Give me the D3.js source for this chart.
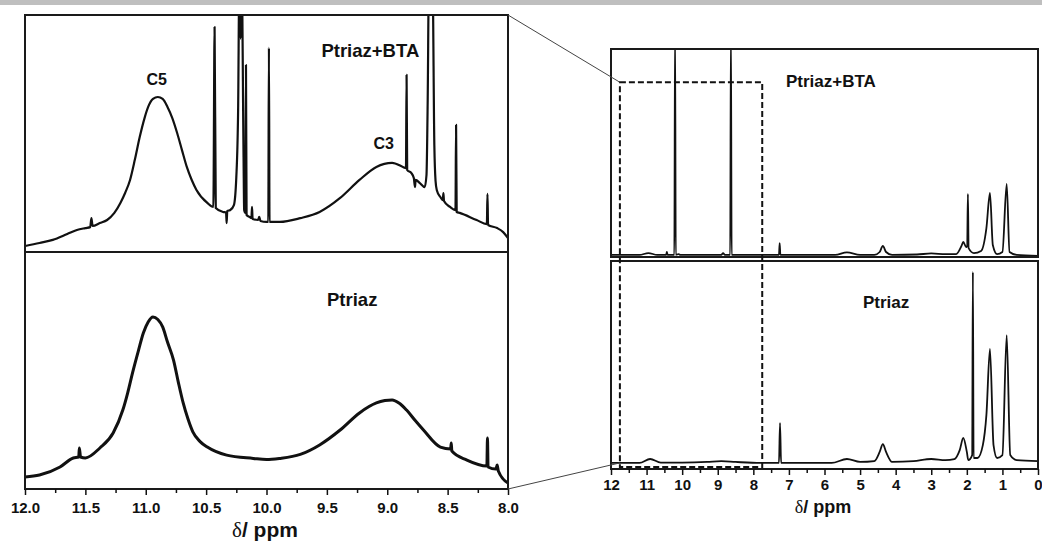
<!DOCTYPE html>
<html>
<head>
<meta charset="utf-8">
<script src="https://cdn.jsdelivr.net/npm/d3@7/dist/d3.min.js"></script>
<style>
  html, body { margin: 0; padding: 0; background: #fff; }
  svg { display: block; font-family: "Liberation Sans", Arial, sans-serif; }
  .tick text { font-weight: bold; fill: #111; }
  .tick line { stroke: #111; stroke-width: 1.5; }
</style>
</head>
<body>
<svg id="chart" width="1042" height="544"></svg>
<script>
// --- data: [ppm, relative intensity] ---
var zoomBTA = [
  [12.00, 2.5], [11.88, 3.8], [11.77, 5.1], [11.65, 7.6], [11.57, 9.3], [11.50, 10.1],
  [11.46, 10.5], [11.45, 14.3], [11.44, 11.0], [11.38, 12.2], [11.32, 13.5], [11.26, 16.5],
  [11.21, 20.7], [11.17, 25.0], [11.13, 30.4], [11.09, 39.0], [11.05, 48.5], [11.01, 56.5],
  [10.98, 61.2], [10.94, 64.6], [10.90, 65.4], [10.86, 64.6], [10.82, 61.2], [10.78, 56.5],
  [10.74, 50.2], [10.70, 43.0], [10.66, 35.9], [10.62, 30.5], [10.58, 26.2], [10.49, 20.7],
  [10.44, 19.0], [10.43, 94.9], [10.42, 18.6], [10.36, 16.9], [10.335, 16.7], [10.33, 12.2],
  [10.325, 17.3], [10.30, 17.7], [10.27, 19.8], [10.25, 31.6], [10.235, 60], [10.225, 115],
  [10.215, 90], [10.205, 115], [10.19, 40], [10.185, 17.7], [10.175, 16.5], [10.17, 78.9],
  [10.165, 15.6], [10.14, 14.8], [10.125, 14.3], [10.12, 19.0], [10.115, 13.9], [10.07, 13.5],
  [10.06, 14.8], [10.05, 13.1], [10.00, 12.7], [9.985, 12.7], [9.98, 86.1], [9.975, 12.7],
  [9.89, 12.7], [9.72, 14.3], [9.56, 16.9], [9.39, 22.8], [9.23, 30.4], [9.09, 35.9],
  [8.96, 37.6], [8.87, 35.9], [8.845, 35.4], [8.84, 74.7], [8.835, 34.6], [8.80, 33.3],
  [8.78, 31.2], [8.77, 27.4], [8.765, 30.4], [8.73, 29.1], [8.69, 27.4], [8.675, 32.5],
  [8.665, 64], [8.655, 115], [8.645, 100], [8.625, 115], [8.61, 45], [8.60, 30],
  [8.59, 26.2], [8.56, 23.2], [8.54, 21.9], [8.535, 24.9], [8.53, 21.5], [8.48, 19.0],
  [8.435, 17.7], [8.43, 53.6], [8.425, 16.9], [8.40, 16.5], [8.26, 13.5], [8.175, 11.8],
  [8.17, 24.5], [8.165, 11.4], [8.09, 10.1], [8.04, 8.4], [8.00, 5.9]
];
var zoomPtriaz = [
  [12.00, 5.1], [11.88, 5.9], [11.71, 9.3], [11.60, 13.1], [11.555, 13.5], [11.55, 17.3],
  [11.54, 13.5], [11.50, 13.1], [11.38, 17.3], [11.27, 23.6], [11.19, 33.3], [11.15, 40.5],
  [11.11, 48.9], [11.06, 58.5], [11.02, 65.8], [10.98, 70.5], [10.94, 72.6], [10.90, 71.5],
  [10.86, 68.4], [10.82, 62.0], [10.77, 54.4], [10.73, 45.0], [10.69, 36.3], [10.65, 29.5],
  [10.61, 24.1], [10.55, 20.0], [10.49, 17.7], [10.33, 14.3], [10.11, 12.9], [10.00, 12.4],
  [9.89, 12.9], [9.72, 14.6], [9.56, 18.6], [9.39, 24.9], [9.23, 32.1], [9.09, 36.3],
  [9.02, 37.3], [8.96, 37.6], [8.90, 36.2], [8.84, 33.3], [8.77, 29.0], [8.70, 24.9],
  [8.56, 17.7], [8.475, 16.9], [8.47, 19.4], [8.465, 16.0], [8.34, 12.2], [8.175, 9.7],
  [8.17, 21.5], [8.165, 9.3], [8.10, 8.4], [8.09, 10.1], [8.08, 7.6], [8.00, 2.5]
];
var fullBTA = [
  [12.0, 1.0], [11.2, 1.0], [10.95, 1.9], [10.7, 1.0], [10.45, 1.0], [10.43, 2.4],
  [10.41, 1.0], [10.22, 1.0], [10.20, 110], [10.18, 1.0], [10.10, 1.4], [10.05, 1.0],
  [8.90, 1.0], [8.85, 1.9], [8.80, 1.0], [8.65, 1.0], [8.63, 110], [8.61, 1.0],
  [7.28, 1.0], [7.26, 6.7], [7.24, 1.0], [5.70, 1.0], [5.37, 2.2], [5.00, 1.0],
  [4.60, 1.0], [4.45, 2.4], [4.36, 5.3], [4.27, 2.4], [4.10, 1.0], [3.40, 1.2],
  [3.00, 1.7], [2.60, 1.4], [2.30, 1.4], [2.15, 5.3], [2.10, 7.2], [2.02, 4.8],
  [1.99, 5.3], [1.97, 30.3], [1.95, 4.3], [1.80, 1.9], [1.60, 2.9], [1.45, 13.9],
  [1.35, 30.8], [1.27, 5.8], [1.15, 1.4], [1.00, 2.4], [0.88, 35.1], [0.80, 2.4],
  [0.60, 1.0], [0.00, 0.5]
];
var fullPtriaz = [
  [12.0, 2.9], [11.2, 2.9], [10.9, 4.8], [10.6, 3.1], [10.0, 3.1], [9.3, 3.4],
  [8.9, 3.8], [8.5, 3.4], [7.8, 2.9], [7.28, 2.9], [7.25, 22.1], [7.22, 2.9],
  [5.8, 2.9], [5.37, 4.8], [5.0, 3.4], [4.6, 3.8], [4.45, 8.2], [4.36, 12.0],
  [4.27, 8.2], [4.10, 3.4], [3.50, 3.8], [3.00, 4.8], [2.60, 4.3], [2.35, 4.8],
  [2.20, 9.1], [2.10, 14.9], [2.00, 8.2], [1.96, 4.3], [1.85, 6.7], [1.83, 94.7],
  [1.81, 5.3], [1.70, 5.3], [1.55, 11.5], [1.45, 26.0], [1.35, 57.7], [1.25, 11.5],
  [1.15, 5.3], [1.00, 6.7], [0.88, 64.4], [0.78, 6.7], [0.60, 4.3], [0.00, 3.8]
];
var zoomTicks = [12.0, 11.5, 11.0, 10.5, 10.0, 9.5, 9.0, 8.5, 8.0];
var zoomMinor = [11.75, 11.25, 10.75, 10.25, 9.75, 9.25, 8.75, 8.25];
var fullTicks = [12, 11, 10, 9, 8, 7, 6, 5, 4, 3, 2, 1, 0];
var fullMinor = [11.5, 10.5, 9.5, 8.5, 7.5, 6.5, 5.5, 4.5, 3.5, 2.5, 1.5, 0.5];
var zoomWindow = [11.75, 7.75]; // ppm range of the dashed box

(function () {
  'use strict';

  var svg = d3.select('#chart');

  // scales: left zoom panel and right full spectrum
  var xZoom = d3.scaleLinear().domain([12, 8]).range([25, 508]),
      yZoomTop = d3.scaleLinear().domain([0, 100]).range([252, 15]),
      yZoomBot = d3.scaleLinear().domain([0, 100]).range([489, 252]),
      xFull = d3.scaleLinear().domain([12, 0]).range([611, 1038]),
      yFullTop = d3.scaleLinear().domain([0, 100]).range([257, 49]),
      yFullBot = d3.scaleLinear().domain([0, 100]).range([469, 261]);

  // grey strip along the top
  svg.append('rect').attr('x', 0).attr('y', 0).attr('width', 1042).attr('height', 5).attr('fill', '#bfbfbf');

  var defs = svg.append('defs');
  var clipId = 0;

  // one framed panel with its spectrum
  function panel(x, y, data, width) {
    var x0 = x.range()[0], x1 = x.range()[1],
        top = y.range()[1], bottom = y.range()[0],
        id = 'clip' + (clipId++);

    defs.append('clipPath').attr('id', id)
      .append('rect').attr('x', x0).attr('y', top).attr('width', x1 - x0).attr('height', bottom - top);

    var line = d3.line()
      .x(function (d) { return x(d[0]); })
      .y(function (d) { return y(d[1]); })
      .curve(d3.curveMonotoneX);

    svg.append('path')
      .datum(data)
      .attr('clip-path', 'url(#' + id + ')')
      .attr('d', line)
      .attr('fill', 'none')
      .attr('stroke', '#111')
      .attr('stroke-width', width)
      .attr('stroke-linejoin', 'round');

    svg.append('rect')
      .attr('x', x0).attr('y', top).attr('width', x1 - x0).attr('height', bottom - top)
      .attr('fill', 'none').attr('stroke', '#1a1a1a').attr('stroke-width', 2);
  }

  panel(xZoom, yZoomTop, zoomBTA, 2.2);
  panel(xZoom, yZoomBot, zoomPtriaz, 3);
  panel(xFull, yFullTop, fullBTA, 1.8);
  panel(xFull, yFullBot, fullPtriaz, 1.8);

  // bottom axes (major + minor ticks)
  function axis(x, y0, major, minor, fmt, pad, size) {
    var g = svg.append('g').attr('transform', 'translate(0,' + y0 + ')')
      .call(d3.axisBottom(x).tickValues(major).tickFormat(fmt).tickSize(6).tickPadding(pad));
    g.select('.domain').remove();
    g.selectAll('text').style('font-size', size + 'px');
    var m = svg.append('g').attr('transform', 'translate(0,' + y0 + ')')
      .call(d3.axisBottom(x).tickValues(minor).tickFormat('').tickSize(4));
    m.select('.domain').remove();
  }

  axis(xZoom, 489, zoomTicks, zoomMinor, d3.format('.1f'), 7, 15);
  axis(xFull, 469, fullTicks, fullMinor, d3.format('d'), 4, 15);

  // axis titles
  function title(cx, cy, size) {
    var t = svg.append('text').attr('x', cx).attr('y', cy).attr('text-anchor', 'middle')
      .style('font-size', size + 'px').attr('fill', '#111');
    t.append('tspan').style('font-family', '"Liberation Serif", serif').text('δ');
    t.append('tspan').style('font-weight', 'bold').text('/ ppm');
  }
  title(265, 537, 21);
  title(823, 513, 18);

  // labels
  function label(tx, ty, txt, size, weight) {
    svg.append('text').attr('x', tx).attr('y', ty).attr('text-anchor', 'middle')
      .style('font-size', size + 'px').style('font-weight', weight).attr('fill', '#111').text(txt);
  }
  label(xZoom(10.91), yZoomTop(70.5), 'C5', 16, 'bold');
  label(xZoom(9.03), yZoomTop(43.5), 'C3', 16, 'bold');
  label(xZoom(9.14), 57, 'Ptriaz+BTA', 18.5, 'bold');
  label(xZoom(9.29), 306, 'Ptriaz', 18.5, 'bold');
  label(xFull(5.82), 87, 'Ptriaz+BTA', 17, 'bold');
  label(xFull(4.27), 308, 'Ptriaz', 17, 'bold');

  // dashed box marking the zoomed range
  var bx0 = xFull(zoomWindow[0]), bx1 = xFull(zoomWindow[1]),
      by0 = yFullTop(84), by1 = yFullBot(1);
  svg.append('rect')
    .attr('x', bx0).attr('y', by0).attr('width', bx1 - bx0).attr('height', by1 - by0)
    .attr('fill', 'none').attr('stroke', '#111').attr('stroke-width', 2).attr('stroke-dasharray', '6,3');

  // connector lines from zoom panel corners to the box
  var links = [
    [xZoom(8), yZoomTop.range()[1], bx0, by0],
    [xZoom(8), yZoomBot.range()[0], bx0, by1 - 4]
  ];
  svg.selectAll('line.link').data(links).enter().append('line')
    .attr('class', 'link')
    .attr('x1', function (d) { return d[0]; })
    .attr('y1', function (d) { return d[1]; })
    .attr('x2', function (d) { return d[2]; })
    .attr('y2', function (d) { return d[3]; })
    .attr('stroke', '#444').attr('stroke-width', 1);
})();
</script>
</body>
</html>
